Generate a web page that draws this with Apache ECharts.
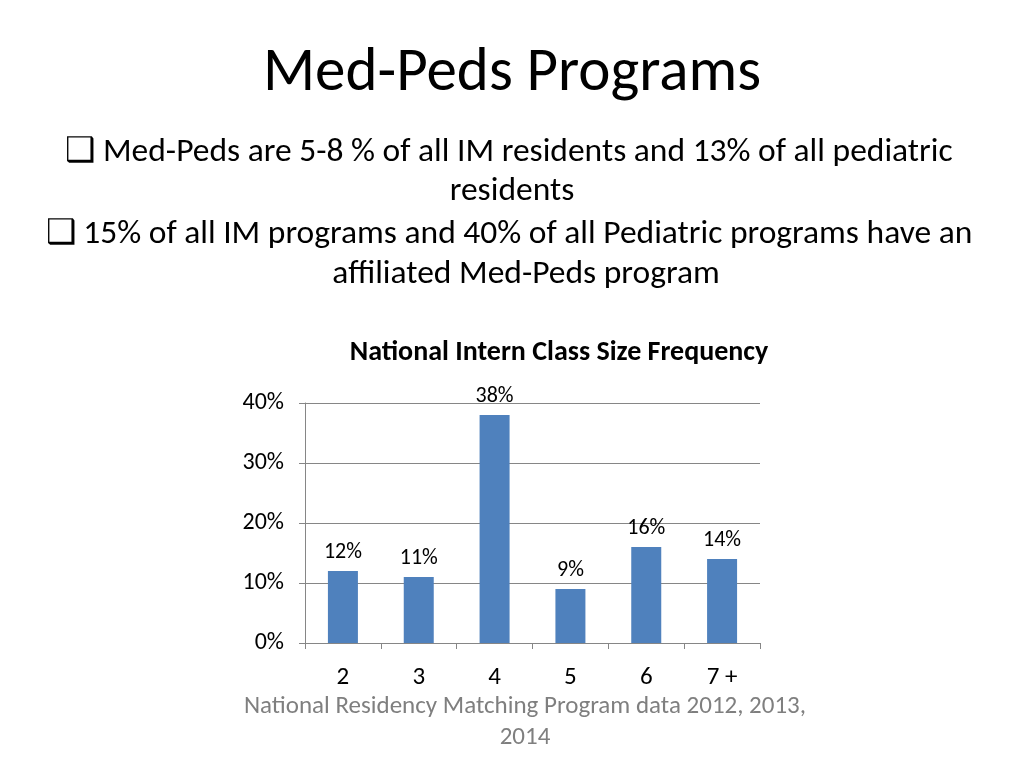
<!DOCTYPE html>
<html>
<head>
<meta charset="utf-8">
<script src="https://cdn.jsdelivr.net/npm/echarts@6/dist/echarts.min.js"></script>
<style>
  html, body { margin: 0; padding: 0; background: #fff; }
  #container { width: 1024px; height: 768px; }
</style>
</head>
<body>
<div id="container"></div>
<script>
// chart data
var categories = ['2', '3', '4', '5', '6', '7 +'];
var frequency = [12, 11, 38, 9, 16, 14];
var yTicks = [0, 10, 20, 30, 40];

var FONT = 'Carlito, Lato, "Liberation Sans", sans-serif';
var dom = document.getElementById('container');
var myChart = echarts.init(dom);

function line(txt, x, y, size, color, weight) {
    return {
        type: 'text', x: x, y: y,
        style: {
            text: txt, fontSize: size, fill: color || '#000', fontFamily: FONT,
            fontWeight: weight || 'normal', align: 'center', verticalAlign: 'middle'
        }
    };
}

var option = {
    backgroundColor: '#fff',
    graphic: [
        line('Med-Peds Programs', 512, 75, 61),
        line('\u2751 Med-Peds are 5-8 % of all IM residents and 13% of all pediatric', 509, 153, 33.5),
        line('residents', 512, 192, 33.5),
        line('\u2751 15% of all IM programs and 40% of all Pediatric programs have an', 509, 235, 33.5),
        line('affiliated Med-Peds program', 526, 275, 33.5),
        line('National Intern Class Size Frequency', 559, 353, 28, '#000', 'bold'),
        line('National Residency Matching Program data 2012, 2013,', 525, 707, 25, '#7f7f7f'),
        line('2014', 525, 738, 25, '#7f7f7f')
    ],
    grid: { left: 305, right: 264, top: 403, bottom: 125 },
    xAxis: {
        type: 'category',
        data: categories,
        axisLine: { show: true, lineStyle: { color: '#868686', width: 1 } },
        axisTick: { show: true, length: 6, lineStyle: { color: '#868686' } },
        axisLabel: { fontSize: 25, color: '#000', margin: 22, fontFamily: FONT },
        splitLine: { show: false }
    },
    yAxis: {
        type: 'value',
        min: yTicks[0],
        max: yTicks[yTicks.length - 1],
        interval: 10,
        axisLine: { show: true, lineStyle: { color: '#868686', width: 1 } },
        axisTick: { show: true, length: 6, lineStyle: { color: '#868686' } },
        axisLabel: { fontSize: 24, color: '#000', margin: 21, formatter: '{value}%', fontFamily: FONT },
        splitLine: { show: true, lineStyle: { color: '#868686', width: 1 } }
    },
    series: [
        {
            type: 'bar',
            data: frequency,
            barWidth: 30,
            itemStyle: { color: '#4f81bd' },
            label: {
                show: true,
                position: 'top',
                distance: 8,
                formatter: '{c}%',
                fontSize: 22,
                color: '#000',
                fontFamily: FONT
            }
        }
    ]
};

myChart.setOption(option);
</script>
</body>
</html>
